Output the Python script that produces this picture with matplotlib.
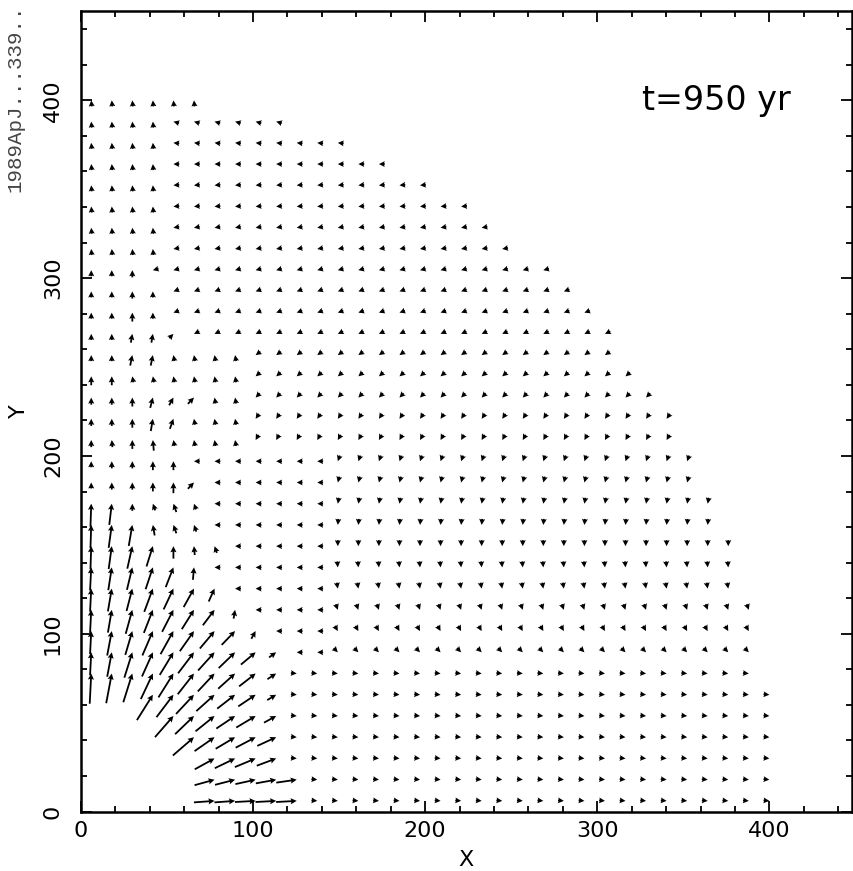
import numpy as np
import matplotlib
matplotlib.use("Agg")
import matplotlib.pyplot as plt
from matplotlib.ticker import MultipleLocator

# model grid: square cells, centres at (k + 0.5) * cell
cell = 400 / 33.5

# occupied cells per row (bottom row first) and first occupied column
row_cells = [34, 34, 34, 34, 34, 34, 33, 33, 33, 33, 32, 32, 32, 31, 31, 30, 30,
             29, 29, 28, 27, 26, 26, 25, 24, 23, 21, 20, 19, 17, 15, 13, 10, 6]
row_first = [6, 6, 6, 5, 4, 3] + [0] * 28

# jet velocities near the source: arrow length (model units) and direction (deg),
# listed per row starting at row_first
jet_len = [
    [12, 12, 12, 12, 12],
    [12, 12, 12, 12, 12],
    [13, 13, 13, 12],
    [16, 14, 13, 13, 12],
    [16, 15, 14, 13, 13, 8],
    [17, 16, 15, 14, 13, 12, 6],
    [17, 17, 17, 16, 16, 15, 14, 13, 12, 6],
    [13, 14, 15, 15, 15, 15, 14, 13, 11, 5],
    [13, 14, 14, 15, 15, 14, 13, 11, 5],
    [13, 13, 14, 14, 14, 13, 11, 5],
    [13, 13, 13, 14, 13, 12, 8],
    [13, 13, 13, 13, 12, 7],
    [13, 13, 13, 12, 7, 5, 4],
    [13, 13, 12, 6, 5, 4],
    [13, 12, 4, 4, 5, 3],
    [3, 4, 4, 5, 6, 5],
    [3, 4, 4, 5, 5],
    [4, 4, 5, 6],
    [4, 4, 5, 7, 6],
    [4, 4, 5, 6, 5, 5],
    [5, 5],
    [3, 3, 6, 6],
    [3, 3, 5, 5, 3],
    [3, 3, 5, 3],
    [3, 3, 4, 3],
    [3, 3, 4],
]
jet_ang = [
    [4, 4, 3, 3, 3],
    [15, 14, 12, 10, 8],
    [28, 25, 22, 20],
    [40, 34, 30, 27, 24],
    [48, 43, 38, 33, 30, 28],
    [57, 52, 46, 41, 37, 33, 30],
    [87, 79, 72, 64, 57, 51, 46, 41, 37, 32],
    [87, 79, 72, 65, 58, 52, 47, 43, 39, 35],
    [87, 79, 73, 66, 60, 54, 49, 45, 60],
    [87, 80, 74, 68, 62, 57, 52, 80],
    [87, 80, 75, 69, 64, 60, 65],
    [87, 81, 76, 71, 68, 85],
    [88, 82, 77, 72, 90, 95, 110],
    [88, 82, 80, 100, 110, 110],
    [88, 83, 90, 110, 110, 110],
    [90, 90, 90, 90, 90, 45],
    [90, 90, 90, 90, 90],
    [90, 95, 90, 95],
    [90, 90, 90, 80, 70],
    [90, 90, 90, 75, 60, 45],
    [90, 90],
    [90, 90, 78, 78],
    [90, 90, 80, 80, 45],
    [90, 90, 90, 90],
    [90, 90, 90, 90],
    [90, 90, 90],
]

# weak flow elsewhere: per row, direction (deg) left of split column and right of it
weak_split = [0] * 7 + [12] * 10 + [8] * 5 + [0] * 4 + [4] * 7 + [6]
weak_dir_in = [0] * 7 + [180] * 10 + [100] * 5 + [180] * 4 + [95] * 8
weak_dir_out = [355, 355, 355, 355, 355, 355, 355, 315, 300, 290, 280, 275, 270,
                265, 260, 255, 250, 240, 235, 225, 220, 215, 205, 200, 200, 195,
                190, 190, 185, 185, 180, 175, 165, 110]
weak_len = 3.4

xs, ys, us, vs = [], [], [], []
for j, n in enumerate(row_cells):
    y = (j + 0.5) * cell
    lens = jet_len[j] if j < len(jet_len) else []
    angs = jet_ang[j] if j < len(jet_ang) else []
    for i in range(row_first[j], n):
        x = (i + 0.5) * cell
        k = i - row_first[j]
        if k < len(lens):
            length, ang = max(lens[k], weak_len), angs[k]
        elif i < weak_split[j]:
            length, ang = weak_len, weak_dir_in[j]
        else:
            length, ang = weak_len, weak_dir_out[j]
        xs.append(x)
        ys.append(y)
        us.append(length * np.cos(np.radians(ang)))
        vs.append(length * np.sin(np.radians(ang)))

fig = plt.figure(figsize=(8.54, 8.71), dpi=100)
ax = fig.add_axes([0.0948, 0.0683, 0.9028, 0.9185])

ax.quiver(xs, ys, us, vs, angles="xy", scale_units="xy", scale=1, pivot="tip",
          units="dots", width=1.8, headwidth=3.4, headlength=3.4,
          headaxislength=3.0, minshaft=1, minlength=0.5, color="black")

ax.set_xlim(0, 448)
ax.set_ylim(0, 450)
ax.xaxis.set_major_locator(MultipleLocator(100))
ax.xaxis.set_minor_locator(MultipleLocator(20))
ax.yaxis.set_major_locator(MultipleLocator(100))
ax.yaxis.set_minor_locator(MultipleLocator(20))
ax.tick_params(which="both", direction="in", top=True, right=True, width=1.3)
ax.tick_params(which="major", length=8, labelsize=16, pad=7)
ax.tick_params(which="minor", length=4.3)
ax.tick_params(axis="y", which="major", pad=13)
for lab in ax.get_yticklabels():
    lab.set_rotation(90)
    lab.set_va("center")
for sp in ax.spines.values():
    sp.set_linewidth(1.8)

ax.set_xlabel("X", fontsize=16, labelpad=6)
ax.set_ylabel("Y", fontsize=16, labelpad=10)

ax.text(326, 400, "t=950 yr", fontsize=24, ha="left", va="center")

fig.text(0.017, 0.78, "1989ApJ...339..", rotation=90, ha="center", va="bottom",
         fontsize=15, family=["Liberation Mono", "DejaVu Sans Mono"], color="#444444")

fig.savefig("out.png", dpi=100)
